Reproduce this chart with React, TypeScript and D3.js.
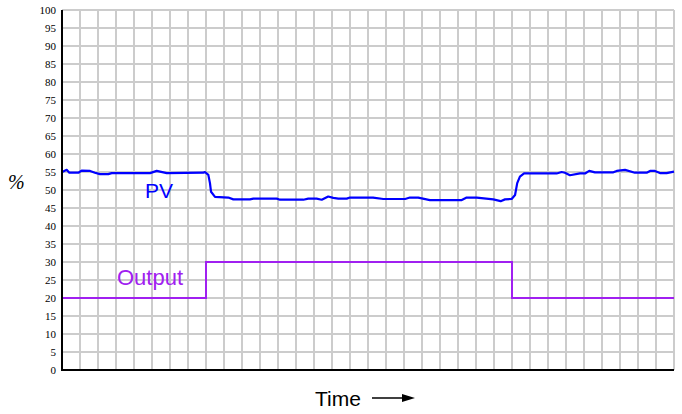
import React from "react";
import * as d3 from "d3";

const pvTime = [0, 0.04, 0.26, 0.41, 0.91, 1.09, 1.56, 1.83, 2.11, 2.57, 2.76, 4.89, 5.26, 5.82, 7.85, 7.94, 8.13, 8.22, 8.28, 8.5, 9.24, 9.52, 10.44, 10.63, 11.93, 12.11, 13.41, 13.68, 14.15, 14.43, 14.79, 15.07, 15.35, 15.82, 16.0, 17.28, 17.85, 19.06, 19.33, 19.79, 20.44, 22.21, 22.48, 23.04, 23.96, 24.37, 24.61, 24.98, 25.17, 25.29, 25.44, 25.67, 27.48, 27.76, 27.94, 28.22, 28.78, 29.06, 29.29, 29.61, 30.63, 30.82, 31.28, 31.83, 32.48, 32.67, 32.94, 33.22, 33.59, 34];
const pvValue = [55.0, 55.1, 55.6, 54.8, 54.8, 55.4, 55.3, 54.8, 54.4, 54.4, 54.7, 54.7, 55.3, 54.7, 54.8, 55.0, 54.2, 51.9, 49.5, 48.1, 47.9, 47.4, 47.4, 47.6, 47.6, 47.3, 47.3, 47.6, 47.6, 47.3, 48.2, 47.8, 47.6, 47.6, 47.9, 47.9, 47.5, 47.5, 47.9, 47.9, 47.2, 47.2, 47.9, 47.9, 47.4, 46.9, 47.4, 47.5, 48.6, 51.9, 53.7, 54.6, 54.6, 55.0, 54.8, 54.1, 54.6, 54.6, 55.3, 54.9, 54.9, 55.3, 55.6, 54.8, 54.8, 55.3, 55.3, 54.7, 54.7, 55.1];

const outTime = [0, 8, 8, 25, 25, 34];
const outValue = [20, 20, 30, 30, 20, 20];

const yTicks = d3.range(0, 101, 5);
const xGrid = d3.range(0, 35, 1);

const SERIF = "'Liberation Serif', 'DejaVu Serif', serif";
const SANS = "'Liberation Sans', Arial, sans-serif";

export default function App() {
  const W = 682, H = 414;
  const left = 62, right = 674, top = 10, bottom = 370;
  const x = d3.scaleLinear().domain([0, 34]).range([left, right]);
  const y = d3.scaleLinear().domain([0, 100]).range([bottom, top]);

  const line = d3.line<[number, number]>().x(d => x(d[0])).y(d => y(d[1]));
  const pvPath = line(pvTime.map((t, i) => [t, pvValue[i]] as [number, number]));
  const outPath = line(outTime.map((t, i) => [t, outValue[i]] as [number, number]));

  return (
    <svg width={W} height={H} style={{ position: "absolute", left: 0, top: 0, background: "#fff" }}>
      <rect x={0} y={0} width={W} height={H} fill="#fff" />
      {yTicks.map(v => (
        <line key={"h" + v} x1={left} x2={right} y1={y(v)} y2={y(v)} stroke="#cccccc" strokeWidth={2} />
      ))}
      {xGrid.map(t => (
        <line key={"v" + t} x1={x(t)} x2={x(t)} y1={top} y2={bottom} stroke="#cccccc" strokeWidth={2} />
      ))}
      {yTicks.map(v => (
        <text key={"t" + v} x={56} y={y(v)} dy="0.35em" textAnchor="end"
          fontFamily={SERIF} fontSize={11} fill="#000">{v}</text>
      ))}
      <path d={outPath || ""} fill="none" stroke="#a020f0" strokeWidth={2} />
      <path d={pvPath || ""} fill="none" stroke="#0000ff" strokeWidth={2.2} strokeLinejoin="round" />
      <line x1={left} x2={left} y1={top} y2={bottom + 1} stroke="#000" strokeWidth={2} />
      <line x1={left - 1} x2={right} y1={bottom} y2={bottom} stroke="#000" strokeWidth={2} />
      <text x={145} y={198} fontFamily={SANS} fontSize={21} fill="#0000ff">PV</text>
      <text x={117} y={285} fontFamily={SANS} fontSize={22} fill="#a020f0">Output</text>
      <text x={8} y={189} fontFamily={SERIF} fontStyle="italic" fontSize={20} fill="#000">%</text>
      <text x={315} y={406} fontFamily={SANS} fontSize={21} fill="#000">Time</text>
      <line x1={372} x2={404} y1={398} y2={398} stroke="#000" strokeWidth={1.5} />
      <path d="M402,394 L415,398 L402,402 Z" fill="#000" />
    </svg>
  );
}
